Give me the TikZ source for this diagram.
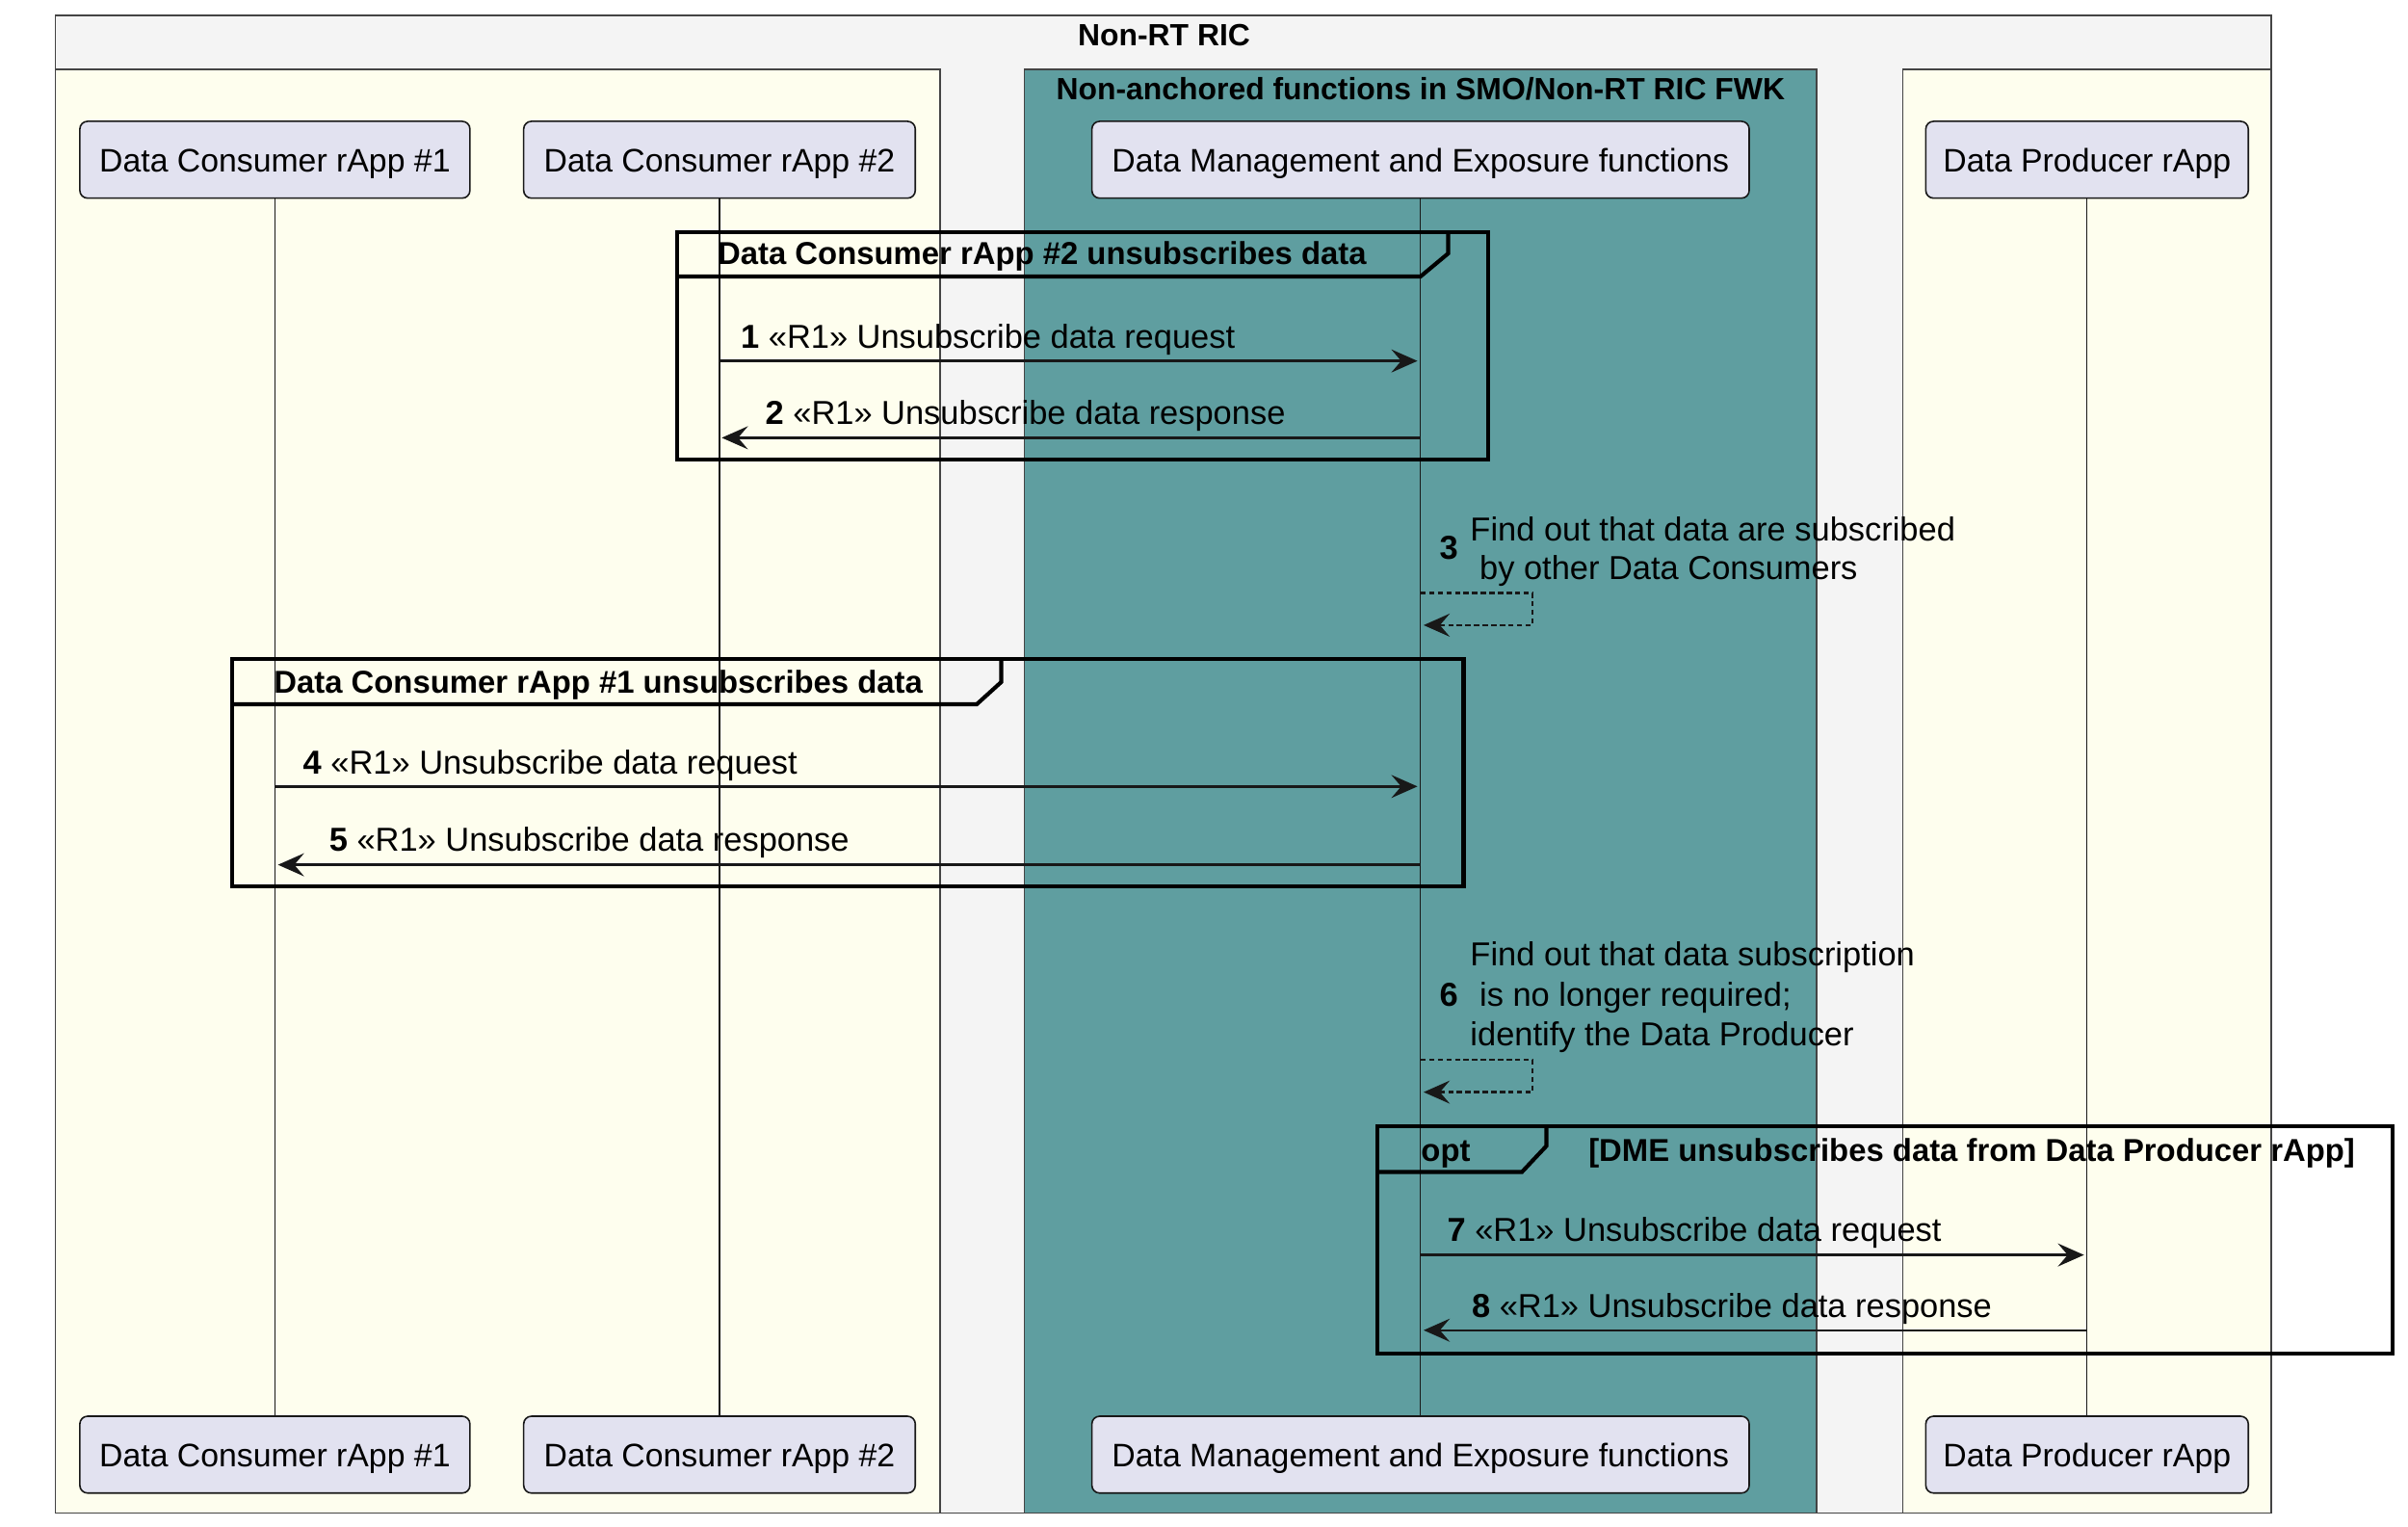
\documentclass[tikz,border=0pt]{standalone}
\usepackage{fontspec}
\setmainfont{Liberation Sans}
\usetikzlibrary{arrows.meta}
\definecolor{boxgray}{RGB}{244,244,244}
\definecolor{ivorybg}{RGB}{254,254,238}
\definecolor{cadet}{RGB}{95,158,160}
\definecolor{partfill}{RGB}{226,226,240}
\definecolor{ink}{RGB}{24,24,24}
\definecolor{boxline}{RGB}{68,68,68}
\begin{document}
\begin{tikzpicture}[x=0.5pt,y=-0.5pt,
 part/.style={draw=ink, fill=partfill, rounded corners=2.5pt, line width=0.5pt, inner sep=0pt, minimum height=25pt, text height=1em, text depth=0.21em, font=\fontsize{10.6}{12}\selectfont},
 life/.style={draw=ink, line width=0.4pt},
 msg/.style={draw=ink, line width=0.75pt, -{Stealth[length=8.5pt,width=7.5pt,inset=3.2pt]}},
 selfmsg/.style={msg, dash pattern=on 1.7pt off 1.1pt},
 grp/.style={draw=black, line width=1.3pt},
 lbl/.style={anchor=base west, inner sep=0pt, font=\fontsize{10.8}{12}\selectfont},
 ttl/.style={anchor=base, inner sep=0pt, font=\bfseries\fontsize{10}{12}\selectfont},
 gttl/.style={anchor=base west, inner sep=0pt, font=\bfseries\fontsize{10.3}{12}\selectfont},
 bnum/.style={anchor=base west, inner sep=0pt, font=\bfseries\fontsize{10.8}{12}\selectfont},
]
\useasboundingbox (0,0) rectangle (1568,994);
% boxes
\draw[boxline, fill=boxgray, line width=0.5pt] (36,10) rectangle (1479,985);
\draw[boxline, fill=ivorybg, line width=0.5pt] (36,45) rectangle (612,985);
\draw[boxline, fill=cadet, line width=0.5pt] (667,45) rectangle (1183,985);
\draw[boxline, fill=ivorybg, line width=0.5pt] (1239,45) rectangle (1479,985);
\node[ttl] (tnrt) at (758,30) {Non-RT RIC};
\node[ttl] (tna) at (925,65) {Non-anchored functions in SMO/Non-RT RIC FWK};
% participants
\node[part, minimum width=127pt] (dc1t) at (179,104) {Data Consumer rApp \#1};
\node[part, minimum width=127.5pt] (dc2t) at (468.5,104) {Data Consumer rApp \#2};
\node[part, minimum width=214pt] (dmet) at (925,104) {Data Management and Exposure functions};
\node[part, minimum width=105pt] (dpt) at (1359,104) {Data Producer rApp};
\node[part, minimum width=127pt] (dc1b) at (179,947) {Data Consumer rApp \#1};
\node[part, minimum width=127.5pt] (dc2b) at (468.5,947) {Data Consumer rApp \#2};
\node[part, minimum width=214pt] (dmeb) at (925,947) {Data Management and Exposure functions};
\node[part, minimum width=105pt] (dpb) at (1359,947) {Data Producer rApp};
% lifelines
\draw[life] (dc1t.south) -- (dc1b.north);
\draw[life] (dc2t.south) -- (dc2b.north);
\draw[life] (dmet.south) -- (dmeb.north);
\draw[life] (dpt.south) -- (dpb.north);
% group 1
\draw[grp] (441,151) rectangle (969,299);
\draw[grp] (441,180) -- (925,180) -- (943,165) -- (943,151);
\node[gttl] (g1t) at (467,172) {Data Consumer rApp \#2 unsubscribes data};
\coordinate (m1s) at (468,235); \coordinate (m1e) at (923,235);
\draw[msg] (m1s) -- (m1e);
\node[lbl] (l1) at (482,226.5) {\textbf{1} «R1» Unsubscribe data request};
\coordinate (m2s) at (925,285); \coordinate (m2e) at (470,285);
\draw[msg] (m2s) -- (m2e);
\node[lbl] (l2) at (498,276) {\textbf{2} «R1» Unsubscribe data response};
% self 3
\coordinate (m3a) at (925,386); \coordinate (m3b) at (998,386);
\coordinate (m3c) at (998,407); \coordinate (m3d) at (927,407);
\draw[selfmsg] (m3a) -- (m3b) -- (m3c) -- (m3d);
\node[bnum] (n3) at (937,364) {3};
\node[lbl] (l3a) at (957,352) {Find out that data are subscribed};
\node[lbl] (l3b) at (957,377) {\hspace{0.28em}by other Data Consumers};
% group 2
\draw[grp] (151,429) rectangle (953,577);
\draw[grp] (151,458.5) -- (636,458.5) -- (652,444) -- (652,429);
\node[gttl] (g2t) at (178,451) {Data Consumer rApp \#1 unsubscribes data};
\coordinate (m4s) at (179,512); \coordinate (m4e) at (923,512);
\draw[msg] (m4s) -- (m4e);
\node[lbl] (l4) at (197,504) {\textbf{4} «R1» Unsubscribe data request};
\coordinate (m5s) at (925,563); \coordinate (m5e) at (181,563);
\draw[msg] (m5s) -- (m5e);
\node[lbl] (l5) at (214,554) {\textbf{5} «R1» Unsubscribe data response};
% self 6
\coordinate (m6a) at (925,690); \coordinate (m6b) at (998,690);
\coordinate (m6c) at (998,711); \coordinate (m6d) at (927,711);
\draw[selfmsg] (m6a) -- (m6b) -- (m6c) -- (m6d);
\node[bnum] (n6) at (937,655) {6};
\node[lbl] (l6a) at (957,629) {Find out that data subscription};
\node[lbl] (l6b) at (957,655) {\hspace{0.28em}is no longer required;};
\node[lbl] (l6c) at (957,681) {identify the Data Producer};
% opt
\draw[grp] (897,733) rectangle (1558,881);
\draw[grp] (897,763) -- (991,763) -- (1007,746) -- (1007,733);
\node[gttl] (gopt) at (925,756) {opt};
\node[gttl] (goptc) at (1034,756) {[DME unsubscribes data from Data Producer rApp]};
\coordinate (m7s) at (925,817); \coordinate (m7e) at (1357,817);
\draw[msg] (m7s) -- (m7e);
\node[lbl] (l7) at (942,808) {\textbf{7} «R1» Unsubscribe data request};
\coordinate (m8s) at (1359,866); \coordinate (m8e) at (927,866);
\draw[msg] (m8s) -- (m8e);
\node[lbl] (l8) at (958,858) {\textbf{8} «R1» Unsubscribe data response};
\end{tikzpicture}
\end{document}
